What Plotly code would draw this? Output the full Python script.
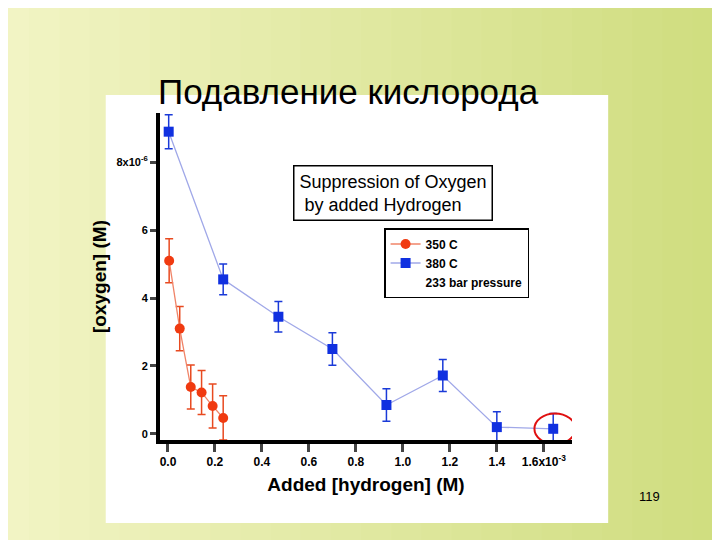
import plotly.graph_objects as go

blue_x = [0.003, 0.235, 0.47, 0.70, 0.93, 1.17, 1.40, 1.64]
blue_y = [8.9, 4.55, 3.45, 2.5, 0.85, 1.72, 0.2, 0.15]
blue_err = [0.5, 0.45, 0.45, 0.48, 0.48, 0.47, 0.45, 0.45]
red_x = [0.005, 0.05, 0.097, 0.143, 0.19, 0.235]
red_y = [5.1, 3.1, 1.38, 1.22, 0.82, 0.47]
red_err = [0.65, 0.65, 0.65, 0.65, 0.65, 0.65]
x_ticks = [0, 0.2, 0.4, 0.6, 0.8, 1.0, 1.2, 1.4, 1.6]
x_labels = ["<b>0.0</b>", "<b>0.2</b>", "<b>0.4</b>", "<b>0.6</b>", "<b>0.8</b>", "<b>1.0</b>",
            "<b>1.2</b>", "<b>1.4</b>", "<b>1.6x10<sup>-3</sup></b>"]
y_ticks = [0, 2, 4, 6, 8]
y_labels = ["<b>0</b>", "<b>2</b>", "<b>4</b>", "<b>6</b>", "<b>8x10<sup>-6</sup></b>"]

fig = go.Figure()
fig.add_trace(go.Scatter(x=red_x, y=red_y, name="<b>350 C</b>", mode="lines+markers",
    line=dict(color="#F08468", width=1.3), marker=dict(color="#F03A10", size=10, symbol="circle"),
    error_y=dict(type="data", array=red_err, color="#E84A20", thickness=1.5, width=4)))
fig.add_trace(go.Scatter(x=blue_x, y=blue_y, name="<b>380 C</b>", mode="lines+markers",
    line=dict(color="#A0A8E8", width=1.3), marker=dict(color="#1030E0", size=10, symbol="square"),
    error_y=dict(type="data", array=blue_err, color="#1A3AD8", thickness=1.5, width=4)))
fig.add_trace(go.Scatter(x=[None], y=[None], name="<b>233 bar pressure</b>", mode="markers",
    marker=dict(size=1, color="rgba(0,0,0,0)")))

shapes = []
n = 24
for i in range(n):
    t = i / (n - 1)
    r = int(0xF2 + (0xD0 - 0xF2) * t)
    g = int(0xF4 + (0xDE - 0xF4) * t)
    b = int(0xC4 + (0x80 - 0xC4) * t)
    shapes.append(dict(type="rect", xref="paper", yref="paper", layer="below",
        x0=-160/410 + i*(720/410)/n, x1=-160/410 + (i+1.05)*(720/410)/n,
        y0=-100/327, y1=(540-100)/327, fillcolor=f"rgb({r},{g},{b})", line_width=0))
shapes.append(dict(type="rect", xref="paper", yref="paper", layer="below",
    x0=(106-160)/410, x1=(606-160)/410, y0=(440-523)/327, y1=(440-95)/327,
    fillcolor="white", line_width=0))
shapes.append(dict(type="circle", xref="x", yref="y", x0=1.56, x1=1.735, y0=-0.3, y1=0.6,
    line=dict(color="#E01010", width=2)))

fig.update_layout(
    width=712, height=532, autosize=False,
    margin=dict(l=152, r=148, t=105, b=100),
    paper_bgcolor="#EEF2BC", plot_bgcolor="rgba(0,0,0,0)",
    shapes=shapes, font=dict(family="Liberation Sans", color="black"),
    xaxis=dict(range=[-0.034, 1.72], tickvals=x_ticks, ticktext=x_labels, showgrid=False, zeroline=False,
        showline=True, linecolor="black", linewidth=4, ticks="outside", tickwidth=3, ticklen=8,
        tickfont=dict(size=12, family="Liberation Sans"),
        title=dict(text="<b>Added [hydrogen] (M)</b>", font=dict(size=19), standoff=10)),
    yaxis=dict(range=[-0.18, 9.45], tickvals=y_ticks, ticktext=y_labels, showgrid=False, zeroline=False,
        showline=True, linecolor="black", linewidth=4, ticks="outside", tickwidth=3, ticklen=6,
        tickfont=dict(size=11, family="Liberation Sans"),
        title=dict(text="<b>[oxygen] (M)</b>", font=dict(size=19), standoff=6)),
    legend=dict(x=(383-160)/410, y=(440-228)/327, xanchor="left", yanchor="top",
        bgcolor="white", bordercolor="black", borderwidth=1.5,
        font=dict(size=12, family="Liberation Sans"), tracegroupgap=0, itemwidth=30),
    annotations=[
        dict(text="Подавление кислорода", xref="paper", yref="paper", x=(348-160)/410, y=(440-70)/327,
             showarrow=False, font=dict(size=35, family="Liberation Sans", color="black")),
        dict(text="Suppression of Oxygen<br> by added Hydrogen", xref="paper", yref="paper",
             x=(392-160)/410, y=(440-165)/327, showarrow=False, align="left",
             bordercolor="black", borderwidth=1.5, bgcolor="white", borderpad=5,
             font=dict(size=18, family="Liberation Sans Narrow, Liberation Sans")),
        dict(text="119", xref="paper", yref="paper", x=(660-160)/410, y=(440-506)/327,
             showarrow=False, font=dict(size=13, family="Liberation Sans")),
    ],
)
fig.write_html("out.html")
